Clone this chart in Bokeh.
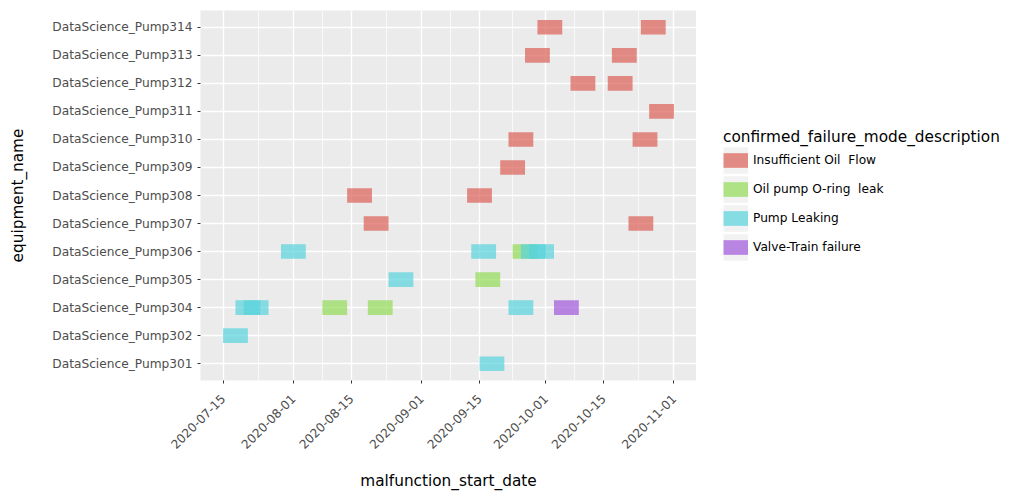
import math
import pandas as pd
from bokeh.plotting import figure
from bokeh.layouts import row
from bokeh.models import (ColumnDataSource, FactorRange, Range1d, FixedTicker,
                          DatetimeTickFormatter, Legend, LegendItem)
from bokeh.transform import factor_cmap
from bokeh.embed import file_html
from bokeh.resources import INLINE

# ---------------- data ----------------
equipment_order = [
    "DataScience_Pump301", "DataScience_Pump302", "DataScience_Pump304",
    "DataScience_Pump305", "DataScience_Pump306", "DataScience_Pump307",
    "DataScience_Pump308", "DataScience_Pump309", "DataScience_Pump310",
    "DataScience_Pump311", "DataScience_Pump312", "DataScience_Pump313",
    "DataScience_Pump314",
]
failure_modes = ["Insufficient Oil  Flow", "Oil pump O-ring  leak",
                 "Pump Leaking", "Valve-Train failure"]
mode_colors = ["#DB5F57", "#91DB57", "#57D3DB", "#A157DB"]

equipment_name = [
    "DataScience_Pump314", "DataScience_Pump314",
    "DataScience_Pump313", "DataScience_Pump313",
    "DataScience_Pump312", "DataScience_Pump312",
    "DataScience_Pump311",
    "DataScience_Pump310", "DataScience_Pump310",
    "DataScience_Pump309",
    "DataScience_Pump308", "DataScience_Pump308",
    "DataScience_Pump307", "DataScience_Pump307",
    "DataScience_Pump306", "DataScience_Pump306", "DataScience_Pump306",
    "DataScience_Pump306", "DataScience_Pump306",
    "DataScience_Pump305", "DataScience_Pump305",
    "DataScience_Pump304", "DataScience_Pump304", "DataScience_Pump304",
    "DataScience_Pump304", "DataScience_Pump304", "DataScience_Pump304",
    "DataScience_Pump302",
    "DataScience_Pump301",
]
malfunction_start_date = [
    "2020-09-29", "2020-10-24",
    "2020-09-26", "2020-10-17",
    "2020-10-07", "2020-10-16",
    "2020-10-26",
    "2020-09-22", "2020-10-22",
    "2020-09-20",
    "2020-08-14", "2020-09-12",
    "2020-08-18", "2020-10-21",
    "2020-07-29", "2020-09-13", "2020-09-23", "2020-09-25", "2020-09-27",
    "2020-08-24", "2020-09-14",
    "2020-07-18", "2020-07-20", "2020-08-08", "2020-08-19", "2020-09-22", "2020-10-03",
    "2020-07-15",
    "2020-09-15",
]
malfunction_end_date = [
    "2020-10-05", "2020-10-30",
    "2020-10-02", "2020-10-23",
    "2020-10-13", "2020-10-22",
    "2020-11-01",
    "2020-09-28", "2020-10-28",
    "2020-09-26",
    "2020-08-20", "2020-09-18",
    "2020-08-24", "2020-10-27",
    "2020-08-04", "2020-09-19", "2020-09-29", "2020-10-01", "2020-10-03",
    "2020-08-30", "2020-09-20",
    "2020-07-24", "2020-07-26", "2020-08-14", "2020-08-25", "2020-09-28", "2020-10-09",
    "2020-07-21",
    "2020-09-21",
]
failure_mode = [
    "Insufficient Oil  Flow", "Insufficient Oil  Flow",
    "Insufficient Oil  Flow", "Insufficient Oil  Flow",
    "Insufficient Oil  Flow", "Insufficient Oil  Flow",
    "Insufficient Oil  Flow",
    "Insufficient Oil  Flow", "Insufficient Oil  Flow",
    "Insufficient Oil  Flow",
    "Insufficient Oil  Flow", "Insufficient Oil  Flow",
    "Insufficient Oil  Flow", "Insufficient Oil  Flow",
    "Pump Leaking", "Pump Leaking", "Oil pump O-ring  leak", "Pump Leaking", "Pump Leaking",
    "Pump Leaking", "Oil pump O-ring  leak",
    "Pump Leaking", "Pump Leaking", "Oil pump O-ring  leak", "Oil pump O-ring  leak",
    "Pump Leaking", "Valve-Train failure",
    "Pump Leaking",
    "Pump Leaking",
]

x_tick_dates = ["2020-07-15", "2020-08-01", "2020-08-15", "2020-09-01",
                "2020-09-15", "2020-10-01", "2020-10-15", "2020-11-01"]

# ---------------- main figure ----------------
starts = pd.to_datetime(malfunction_start_date)
ends = pd.to_datetime(malfunction_end_date)
dmin, dmax = starts.min(), ends.max()
pad = (dmax - dmin) * 0.05

source = ColumnDataSource(dict(
    equipment_name=equipment_name, start=starts, end=ends, mode=failure_mode))

FONT = "DejaVu Sans"
TOP = 10
p = figure(
    frame_width=496, frame_height=370,
    x_axis_type="datetime",
    y_range=FactorRange(factors=equipment_order, range_padding=0.1,
                        range_padding_units="absolute"),
    x_range=Range1d(dmin - pad, dmax + pad),
    output_backend="svg", toolbar_location=None,
    min_border_left=200, min_border_right=0,
    min_border_top=TOP, min_border_bottom=0,
    background_fill_color="#EBEBEB", border_fill_color="white",
    outline_line_color=None,
)

p.hbar(y="equipment_name", left="start", right="end", height=0.52,
       source=source, line_color=None, fill_alpha=0.7,
       fill_color=factor_cmap("mode", mode_colors, failure_modes))

major_ms = [pd.Timestamp(d).value / 1e6 for d in x_tick_dates]
minor_ms = [(a + b) / 2 for a, b in zip(major_ms[:-1], major_ms[1:])]
p.xaxis.ticker = FixedTicker(ticks=major_ms, minor_ticks=minor_ms)
fmt = "%Y-%m-%d"
p.xaxis.formatter = DatetimeTickFormatter(
    milliseconds=fmt, seconds=fmt, minsec=fmt, minutes=fmt, hourmin=fmt,
    hours=fmt, days=fmt, months=fmt, years=fmt)
p.xaxis.major_label_orientation = math.pi / 4

for ax in (p.xaxis, p.yaxis):
    ax.axis_line_color = None
    ax.major_tick_in = 0
    ax.major_tick_out = 3
    ax.major_tick_line_color = "#333333"
    ax.minor_tick_line_color = None
    ax.major_label_text_font = FONT
    ax.major_label_text_font_size = "12.2px"
    ax.major_label_text_color = "#4D4D4D"
    ax.axis_label_text_font = FONT
    ax.axis_label_text_font_size = "15.3px"
    ax.axis_label_text_font_style = "normal"
    ax.axis_label_text_color = "black"

p.xaxis.axis_label = "malfunction_start_date"
p.yaxis.axis_label = "equipment_name"
p.yaxis.major_label_standoff = 5
p.xaxis.major_label_standoff = 12
p.yaxis.axis_label_standoff = 22
p.xaxis.axis_label_standoff = 16

p.xgrid.grid_line_color = "white"
p.xgrid.grid_line_width = 1.4
p.xgrid.minor_grid_line_color = "white"
p.xgrid.minor_grid_line_width = 0.7
p.ygrid.grid_line_color = "white"
p.ygrid.grid_line_width = 1.4

# ---------------- legend figure ----------------
lg = figure(
    frame_width=310, frame_height=370,
    x_range=Range1d(0, 1), y_range=Range1d(0, 1),
    x_axis_location=None, y_axis_location=None,
    output_backend="svg", toolbar_location=None,
    min_border_left=0, min_border_right=0,
    min_border_top=TOP, min_border_bottom=0,
    background_fill_color="white", border_fill_color="white",
    outline_line_color=None,
)
lg.xgrid.visible = False
lg.ygrid.visible = False

items = []
for mode, color in zip(failure_modes, mode_colors):
    bg = lg.line(x=[0.5], y=[0.5], line_color="#F2F2F2", line_width=26.5)
    fg = lg.line(x=[0.5], y=[0.5], line_color=color, line_alpha=0.7, line_width=14.7)
    items.append(LegendItem(label=mode, renderers=[bg, fg]))

legend = Legend(
    items=items, location=(27, 119),
    title="confirmed_failure_mode_description",
    title_text_font=FONT, title_text_font_size="15.3px",
    title_text_font_style="normal", title_text_color="black",
    title_standoff=0,
    label_text_font=FONT, label_text_font_size="12.2px",
    label_text_color="black", label_standoff=5,
    glyph_width=25, glyph_height=28, spacing=1,
    padding=0, margin=0,
    border_line_color=None, background_fill_alpha=0,
)
lg.add_layout(legend)

layout = row(p, lg)
open("out.html", "w").write(file_html(layout, INLINE))
